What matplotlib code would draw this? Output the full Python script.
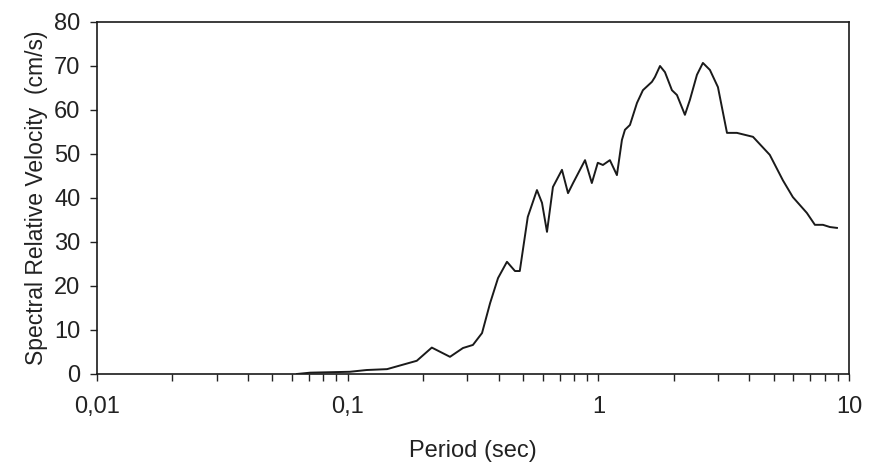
import matplotlib
matplotlib.use("Agg")
import matplotlib.pyplot as plt
from matplotlib.ticker import FixedLocator, LogLocator, NullFormatter

# spectral relative velocity
period = [0.0628, 0.0709, 0.0849, 0.102, 0.119, 0.1436, 0.1887, 0.2166, 0.256,
          0.2884, 0.316, 0.3436, 0.370, 0.398, 0.432, 0.465, 0.486, 0.523,
          0.569, 0.596, 0.624, 0.659, 0.716, 0.757, 0.793, 0.885, 0.942,
          0.995, 1.043, 1.112, 1.186, 1.242, 1.277, 1.337, 1.426, 1.506,
          1.636, 1.682, 1.762, 1.844, 1.966, 2.059, 2.215, 2.319, 2.474,
          2.613, 2.787, 3.0, 3.26, 3.57, 4.14, 4.83, 5.45, 5.97, 6.79,
          7.31, 7.87, 8.39, 8.95]
velocity = [0.0, 0.3, 0.4, 0.5, 0.9, 1.1, 3.0, 6.0, 3.9,
            5.9, 6.6, 9.3, 16.1, 21.8, 25.5, 23.4, 23.4, 35.7,
            41.8, 38.9, 32.3, 42.5, 46.4, 41.1, 43.4, 48.6, 43.4,
            48.0, 47.5, 48.6, 45.2, 53.2, 55.5, 56.6, 61.6, 64.5,
            66.4, 67.5, 70.0, 68.6, 64.5, 63.4, 58.9, 62.3, 68.0,
            70.7, 69.1, 65.2, 54.8, 54.8, 53.9, 49.8, 44.0, 40.2, 36.6,
            33.9, 33.9, 33.4, 33.2]

x_ticks = [0.01, 0.1, 1, 10]
x_tick_labels = ["0,01", "0,1", "1", "10"]
y_ticks = [0, 10, 20, 30, 40, 50, 60, 70, 80]

plt.rcParams['font.family'] = ['Liberation Sans', 'DejaVu Sans']

fig = plt.figure(figsize=(8.69, 4.70), dpi=100)
ax = fig.add_axes([0.1116, 0.2043, 0.8654, 0.7489])

ax.plot(period, velocity, color='#1a1a1a', linewidth=1.4, solid_joinstyle='round')

ax.set_xscale('log')
ax.set_xlim(0.01, 10)
ax.set_ylim(0, 80)

ax.xaxis.set_major_locator(FixedLocator(x_ticks))
ax.set_xticklabels(x_tick_labels)
ax.xaxis.set_minor_locator(LogLocator(base=10, subs=range(2, 10)))
ax.xaxis.set_minor_formatter(NullFormatter())
ax.set_yticks(y_ticks)

ax.tick_params(axis='both', which='both', direction='out', length=5,
               width=1, colors='#222222', labelsize=17)
ax.tick_params(axis='x', which='major', pad=11)
ax.tick_params(axis='y', which='major', pad=7)

for s in ax.spines.values():
    s.set_linewidth(1.2)
    s.set_color('#1a1a1a')

ax.set_xlabel('Period (sec)', fontsize=17, color='#222222', labelpad=16)
ax.set_ylabel('Spectral Relative Velocity  (cm/s)', fontsize=16.5,
              color='#222222', labelpad=4)

fig.savefig('out.png', dpi=100)
